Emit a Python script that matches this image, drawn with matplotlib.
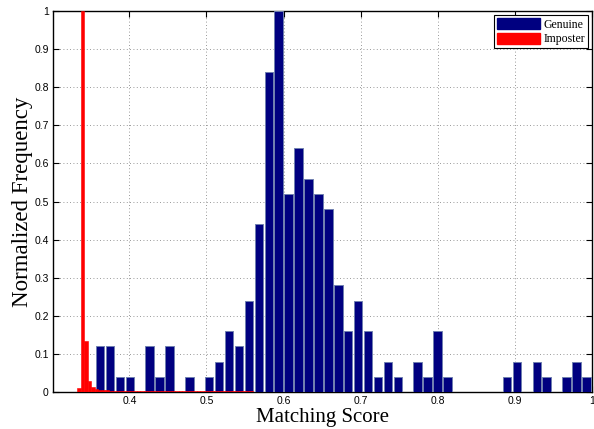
import numpy as np
import matplotlib
matplotlib.use("Agg")
import matplotlib.pyplot as plt
from matplotlib.patches import Patch

# genuine scores: 50 bins between min and max score
gen_lo, gen_hi = 0.3556, 0.9992
genuine = [0.12, 0.12, 0.04, 0.04, 0.00, 0.12, 0.04, 0.12, 0.00, 0.04,
           0.00, 0.04, 0.08, 0.16, 0.12, 0.24, 0.44, 0.84, 1.00, 0.52,
           0.64, 0.56, 0.52, 0.48, 0.28, 0.16, 0.24, 0.16, 0.04, 0.08,
           0.04, 0.00, 0.08, 0.04, 0.16, 0.04, 0.00, 0.00, 0.00, 0.00,
           0.00, 0.04, 0.08, 0.00, 0.08, 0.04, 0.00, 0.04, 0.08, 0.04]

# imposter scores: 50 bins, much narrower range
imp_lo, imp_hi = 0.3323, 0.5600
imposter = [0.010, 1.000, 0.134, 0.029, 0.012, 0.007, 0.005, 0.004, 0.004, 0.003,
            0.003, 0.003, 0.002, 0.002, 0.002, 0.002, 0.002, 0.002, 0.002, 0.002,
            0.002, 0.002, 0.002, 0.002, 0.002, 0.002, 0.002, 0.002, 0.002, 0.002,
            0.002, 0.002, 0.002, 0.002, 0.002, 0.002, 0.002, 0.002, 0.002, 0.002,
            0.002, 0.002, 0.002, 0.002, 0.002, 0.002, 0.002, 0.002, 0.002, 0.002]

xticks = [0.4, 0.5, 0.6, 0.7, 0.8, 0.9, 1.0]
xtick_labels = ["0.4", "0.5", "0.6", "0.7", "0.8", "0.9", "1"]
yticks = [0, 0.1, 0.2, 0.3, 0.4, 0.5, 0.6, 0.7, 0.8, 0.9, 1.0]
ytick_labels = ["0", "0.1", "0.2", "0.3", "0.4", "0.5", "0.6", "0.7", "0.8", "0.9", "1"]

gen_edges = np.linspace(gen_lo, gen_hi, len(genuine) + 1)
gen_w = gen_edges[1] - gen_edges[0]
gen_c = (gen_edges[:-1] + gen_edges[1:]) / 2

imp_edges = np.linspace(imp_lo, imp_hi, len(imposter) + 1)
imp_w = imp_edges[1] - imp_edges[0]
imp_c = (imp_edges[:-1] + imp_edges[1:]) / 2

fig = plt.figure(figsize=(5.94, 4.29), dpi=100)
ax = fig.add_axes([0.0892, 0.0862, 0.9074, 0.8882])

ax.bar(gen_c, genuine, width=gen_w * 0.86, color='#000080', edgecolor='#7080b0',
       linewidth=0.7, zorder=3)
ax.bar(imp_c, imposter, width=imp_w, color='#ff0000', edgecolor='#ff0000',
       linewidth=0.4, zorder=4)

ax.set_xlim(0.301, 1.0)
ax.set_ylim(0, 1)
ax.set_xticks(xticks)
ax.set_xticklabels(xtick_labels, fontsize=7.5, family='Liberation Sans')
ax.set_yticks(yticks)
ax.set_yticklabels(ytick_labels, fontsize=7.5, family='Liberation Sans')
ax.tick_params(direction='in', length=4, width=0.8, top=True, right=True, pad=3)
ax.grid(True, linestyle=(0, (1, 3)), color='#777777', linewidth=0.6, zorder=0)
ax.set_axisbelow(True)
for s in ax.spines.values():
    s.set_linewidth(1.0)

ax.set_xlabel('Matching Score', fontsize=15, family='Liberation Serif', labelpad=1)
ax.set_ylabel('Normalized Frequency', fontsize=16.5, family='Liberation Serif', labelpad=1)

handles = [Patch(facecolor='#000080', edgecolor='#000080', label='Genuine'),
           Patch(facecolor='#ff0000', edgecolor='#ff0000', label='Imposter')]
leg = ax.legend(handles=handles, loc='upper right', fancybox=False, framealpha=1,
                edgecolor='black', prop={'family': 'Liberation Serif', 'size': 8.5},
                handlelength=3.6, handleheight=1.1, handletextpad=0.3,
                borderpad=0.25, labelspacing=0.15, borderaxespad=0.35)
leg.get_frame().set_linewidth(0.8)
leg.set_zorder(10)

fig.savefig('out.png', dpi=100)
